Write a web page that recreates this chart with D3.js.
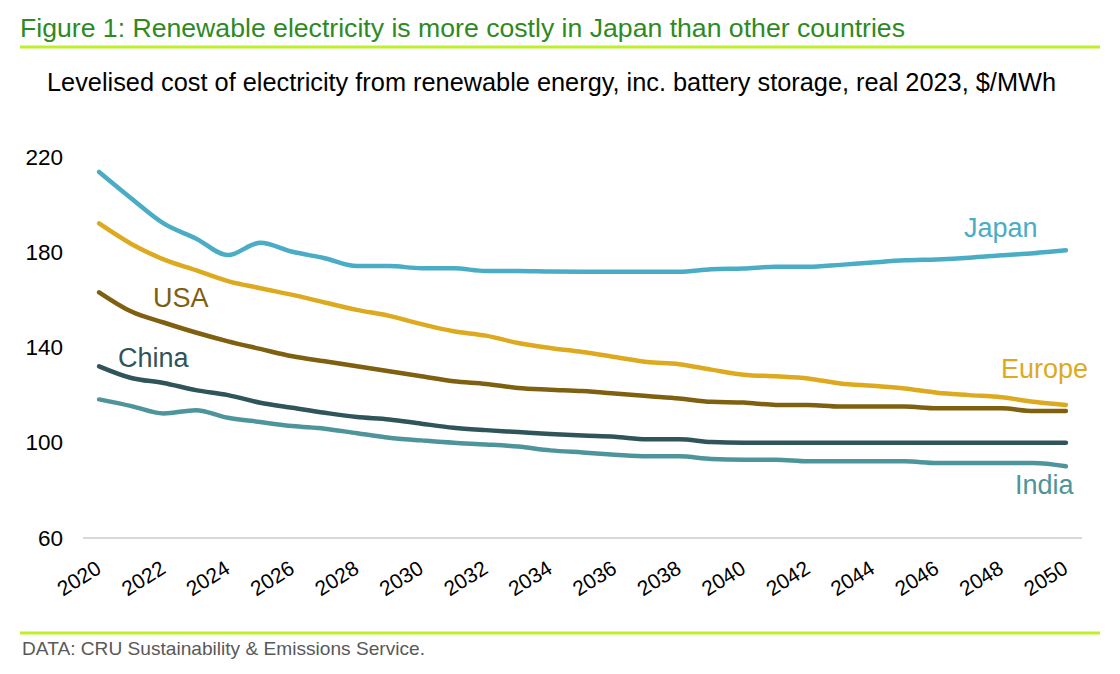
<!DOCTYPE html>
<html>
<head>
<meta charset="utf-8">
<script src="https://cdn.jsdelivr.net/npm/d3@7"></script>
<style>
  body { margin: 0; background: #fff; }
  svg text { font-family: "Liberation Sans", Arial, sans-serif; }
</style>
</head>
<body>
<div id="chart"></div>
<script>
// years on the x axis
var years = d3.range(2020, 2051);
var yTicks = [60, 100, 140, 180, 220];
var xTicks = d3.range(2020, 2051, 2);

// $/MWh
var japan = [213.7, 202.6, 192.1, 185.8, 178.8, 184.0, 180.2, 177.5, 174.2, 174.2,
  173.3, 173.3, 172.1, 172.1, 171.9, 171.8, 171.8, 171.8, 171.8, 172.9,
  173.2, 173.9, 173.9, 174.7, 175.7, 176.6, 177.0, 177.7, 178.7, 179.6, 180.8];
var europe = [192.1, 183.5, 177.0, 172.5, 167.9, 164.9, 162.1, 158.9, 155.8, 153.3,
  149.8, 146.8, 145.0, 141.9, 139.8, 138.1, 136.0, 133.9, 133.0, 130.7,
  128.6, 127.9, 127.0, 124.9, 123.9, 122.8, 121.0, 120.0, 119.1, 117.2, 115.9];
var usa = [163.2, 155.1, 150.5, 146.3, 142.6, 139.4, 136.3, 134.2, 132.1, 130.0,
  127.9, 125.8, 124.7, 123.0, 122.3, 121.7, 120.7, 119.6, 118.6, 117.2,
  116.9, 115.9, 115.9, 115.2, 115.2, 115.2, 114.5, 114.5, 114.5, 113.3, 113.3];
var china = [132.1, 127.2, 125.1, 122.1, 120.0, 116.8, 114.7, 112.6, 110.8, 109.8,
  108.0, 106.3, 105.3, 104.5, 103.7, 103.0, 102.5, 101.5, 101.5, 100.3,
  100, 100, 100, 100, 100, 100, 100, 100, 100, 100, 100];
var india = [118.2, 115.4, 112.3, 113.7, 110.5, 108.7, 107.0, 105.9, 104.0, 102.1,
  101.0, 100.0, 99.3, 98.4, 96.8, 95.9, 95.0, 94.3, 94.3, 93.2,
  92.9, 92.9, 92.2, 92.2, 92.2, 92.2, 91.5, 91.5, 91.5, 91.5, 90.1];

var seriesNames = ["Japan", "Europe", "USA", "China", "India"];
var seriesColors = ["#4BACC6", "#DDAA1F", "#7F6011", "#2F545A", "#4E959B"];
var seriesValues = [japan, europe, usa, china, india];

var width = 1120, height = 674;

var svg = d3.select("#chart")
  .append("svg")
    .attr("width", width)
    .attr("height", height);

// title + rules
svg.append("text")
  .attr("x", 20)
  .attr("y", 37)
  .attr("font-size", 25)
  .attr("textLength", 885)
  .attr("lengthAdjust", "spacingAndGlyphs")
  .attr("fill", "#2E8A1F")
  .text("Figure 1: Renewable electricity is more costly in Japan than other countries");

svg.append("line")
  .attr("x1", 20).attr("x2", 1100)
  .attr("y1", 47).attr("y2", 47)
  .attr("stroke", "#BEF02A")
  .attr("stroke-width", 3);

svg.append("text")
  .attr("x", 47)
  .attr("y", 91)
  .attr("font-size", 25)
  .attr("textLength", 1009)
  .attr("lengthAdjust", "spacingAndGlyphs")
  .attr("fill", "#000")
  .text("Levelised cost of electricity from renewable energy, inc. battery storage, real 2023, $/MWh");

// scales
var x = d3.scalePoint()
  .domain(years)
  .range([83, 1082])
  .padding(0.5);

var y = d3.scaleLinear()
  .domain([60, 220])
  .range([538, 157]);

// baseline at 60
svg.append("line")
  .attr("x1", 83).attr("x2", 1082)
  .attr("y1", y(60)).attr("y2", y(60))
  .attr("stroke", "#D9D9D9")
  .attr("stroke-width", 2);

// Y axis
var yAxis = svg.append("g")
  .attr("transform", "translate(63,0)")
  .call(d3.axisLeft(y).tickValues(yTicks).tickSize(0).tickPadding(0));
yAxis.select(".domain").remove();
yAxis.selectAll("text")
  .attr("font-size", 22.5)
  .attr("fill", "#000")
  .style("font-family", "Liberation Sans, Arial, sans-serif");

// X axis
var xAxis = svg.append("g")
  .attr("transform", "translate(0,548)")
  .call(d3.axisBottom(x).tickValues(xTicks).tickSize(0).tickPadding(0));
xAxis.select(".domain").remove();
xAxis.selectAll("text")
  .attr("font-size", 21)
  .attr("fill", "#000")
  .style("font-family", "Liberation Sans, Arial, sans-serif")
  .attr("y", 0)
  .attr("dy", 0)
  .attr("transform", "translate(3,24) rotate(-32)")
  .style("text-anchor", "end");

// lines
var line = d3.line()
  .x(function(d, i) { return x(years[i]); })
  .y(function(d) { return y(d); })
  .curve(d3.curveMonotoneX);

svg.selectAll("path.series")
  .data(seriesValues)
  .enter()
  .append("path")
    .attr("class", "series")
    .attr("d", line)
    .attr("fill", "none")
    .attr("stroke", function(d, i) { return seriesColors[i]; })
    .attr("stroke-width", 4.5)
    .attr("stroke-linecap", "round")
    .attr("stroke-linejoin", "round");

// series labels
var labelPos = {
  Japan: [964, 237],
  Europe: [1001, 378],
  USA: [153, 307],
  China: [118, 367],
  India: [1015, 494]
};
seriesNames.forEach(function(name, i) {
  svg.append("text")
    .attr("x", labelPos[name][0])
    .attr("y", labelPos[name][1])
    .attr("font-size", 27)
    .attr("fill", seriesColors[i])
    .text(name);
});

// footer
svg.append("line")
  .attr("x1", 20).attr("x2", 1100)
  .attr("y1", 633).attr("y2", 633)
  .attr("stroke", "#BEF02A")
  .attr("stroke-width", 3);

svg.append("text")
  .attr("x", 22)
  .attr("y", 655)
  .attr("font-size", 18.5)
  .attr("textLength", 403)
  .attr("lengthAdjust", "spacingAndGlyphs")
  .attr("fill", "#595959")
  .text("DATA: CRU Sustainability & Emissions Service.");
</script>
</body>
</html>
